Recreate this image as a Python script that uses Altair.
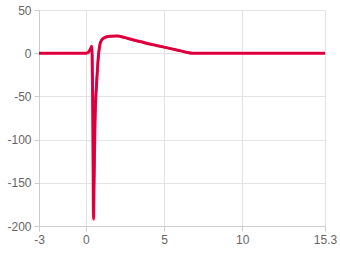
import altair as alt
import pandas as pd

xs = [-3, 0, 0.1, 0.2, 0.3, 0.38, 0.44, 0.49, 0.52, 0.55, 0.58, 0.62, 0.68, 0.75, 0.82, 0.9, 1.0, 1.2, 1.5, 2.0, 2.5, 3.0, 3.5, 4.0, 4.5, 5.0, 5.5, 6.0, 6.5, 6.8, 15.3]
s_dark = [0, 0, 0.5, 2, 5, 8, -60, -190, -150, -112, -80, -55, -35, -15, 0, 10, 15, 18, 19.5, 20, 18, 15.5, 13.3, 11, 9, 7, 5, 3, 0.8, 0, 0]
s_pink = [0, 0, 0.5, 2, 5, 8, -70, -192, -155, -118, -85, -58, -37, -16, 0, 10, 15, 18, 19.5, 20, 18, 15.5, 13.3, 11, 9, 7, 5, 3, 0.8, 0, 0]
x_ticks = [-3, 0, 5, 10, 15.3]
y_ticks = [-200, -150, -100, -50, 0, 50]

df = pd.DataFrame({"x": xs * 2, "y": s_pink + s_dark,
                   "s": ["pink"] * len(xs) + ["dark"] * len(xs)})

x_enc = alt.X("x:Q", scale=alt.Scale(domain=[-3, 15.3], nice=False, zero=False),
              axis=alt.Axis(values=x_ticks, title=None, labelFlush=False,
                            labelExpr="toString(datum.value)"))
y_enc = alt.Y("y:Q", scale=alt.Scale(domain=[-200, 50], nice=False),
              axis=alt.Axis(values=y_ticks, title=None, labelFlush=False,
                            labelExpr="toString(datum.value)"))

pink = alt.Chart(df).transform_filter(alt.datum.s == "pink").mark_line(
    color="#ff0a55", strokeWidth=3, interpolate="monotone").encode(x=x_enc, y=y_enc)
dark = alt.Chart(df).transform_filter(alt.datum.s == "dark").mark_line(
    color="#d6003a", strokeWidth=2.3, interpolate="monotone").encode(x=x_enc, y=y_enc)

chart = (pink + dark).properties(
    width=286, height=216,
    autosize=alt.AutoSizeParams(type="none"),
    padding={"left": 39, "top": 10, "right": 15, "bottom": 29},
).configure_view(stroke=None).configure_axis(
    gridColor="#e3e3e3", domainColor="#cccccc", tickColor="#cccccc",
    labelColor="#666666", labelFont="Liberation Sans", labelFontSize=12,
    tickSize=5, labelPadding=3,
)

chart.save("out.html", embed_options={"renderer": "svg", "actions": False})
